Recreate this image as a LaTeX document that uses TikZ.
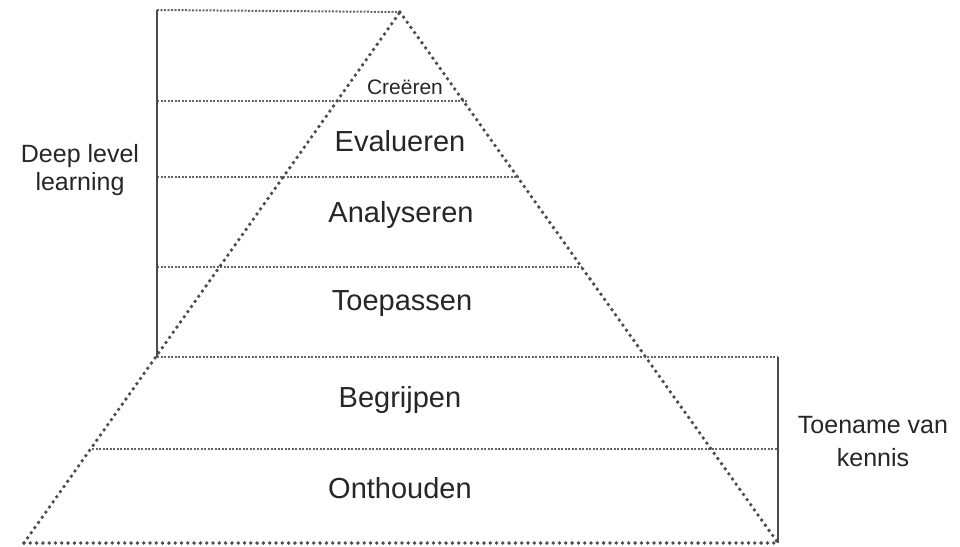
\documentclass[tikz,border=0pt]{standalone}
\usepackage{fontspec}
\setmainfont{Liberation Sans}
\begin{document}
\begin{tikzpicture}[x=1pt, y=-1pt,
    edge/.style={line width=3.8pt, dash pattern=on 0pt off 6.3pt, line cap=round, black!70},
    level/.style={line width=2pt, dash pattern=on 2pt off 1.5pt, black!60},
    bracket/.style={line width=1.8pt, black!70},
    lbl/.style={font=\fontsize{29}{32}\selectfont, text=black!85},
    side/.style={font=\fontsize{25}{33}\selectfont, text=black!85, align=center}]
    \useasboundingbox (0,0) rectangle (960,546);

    % Pyramid corners
    \coordinate (apex) at (400,12);
    \coordinate (bl) at (24,543);
    \coordinate (br) at (778,543);

    % Level ends
    \coordinate (l0) at (157,10);
    \coordinate (l1) at (157,101);
    \coordinate (l2) at (157,177);
    \coordinate (l3) at (157,267);
    \coordinate (l4) at (157,357);
    \coordinate (l5) at (92,449);
    \coordinate (r1) at (468,101);
    \coordinate (r2) at (519,177);
    \coordinate (r3) at (581,267);
    \coordinate (r4) at (778,357);
    \coordinate (r5) at (778,449);

    % Levels
    \draw[level] (l0) -- (apex);
    \draw[level] (l1) -- (r1);
    \draw[level] (l2) -- (r2);
    \draw[level] (l3) -- (r3);
    \draw[level] (l4) -- (r4);
    \draw[level] (l5) -- (r5);

    % Pyramid
    \draw[edge] (bl) -- (apex);
    \draw[edge] (apex) -- (br);
    \draw[edge] (bl) -- (br);

    % Brackets
    \draw[bracket] (l0) -- (l4);
    \draw[bracket] (r4) -- (br);

    % Labels
    \node[lbl, font=\fontsize{21}{24}\selectfont] (creeren) at (405,87) {Creëren};
    \node[lbl] (evalueren) at (400,141) {Evalueren};
    \node[lbl] (analyseren) at (401,215) {Analyseren};
    \node[lbl] (toepassen) at (402,304) {Toepassen};
    \node[lbl] (begrijpen) at (400,400) {Begrijpen};
    \node[lbl] (onthouden) at (400,488) {Onthouden};
    \node[side, font=\fontsize{25}{28}\selectfont] (deep) at (80,170) {Deep level\\learning};
    \node[side] (toename) at (873,442) {Toename van\\kennis};
\end{tikzpicture}
\end{document}
